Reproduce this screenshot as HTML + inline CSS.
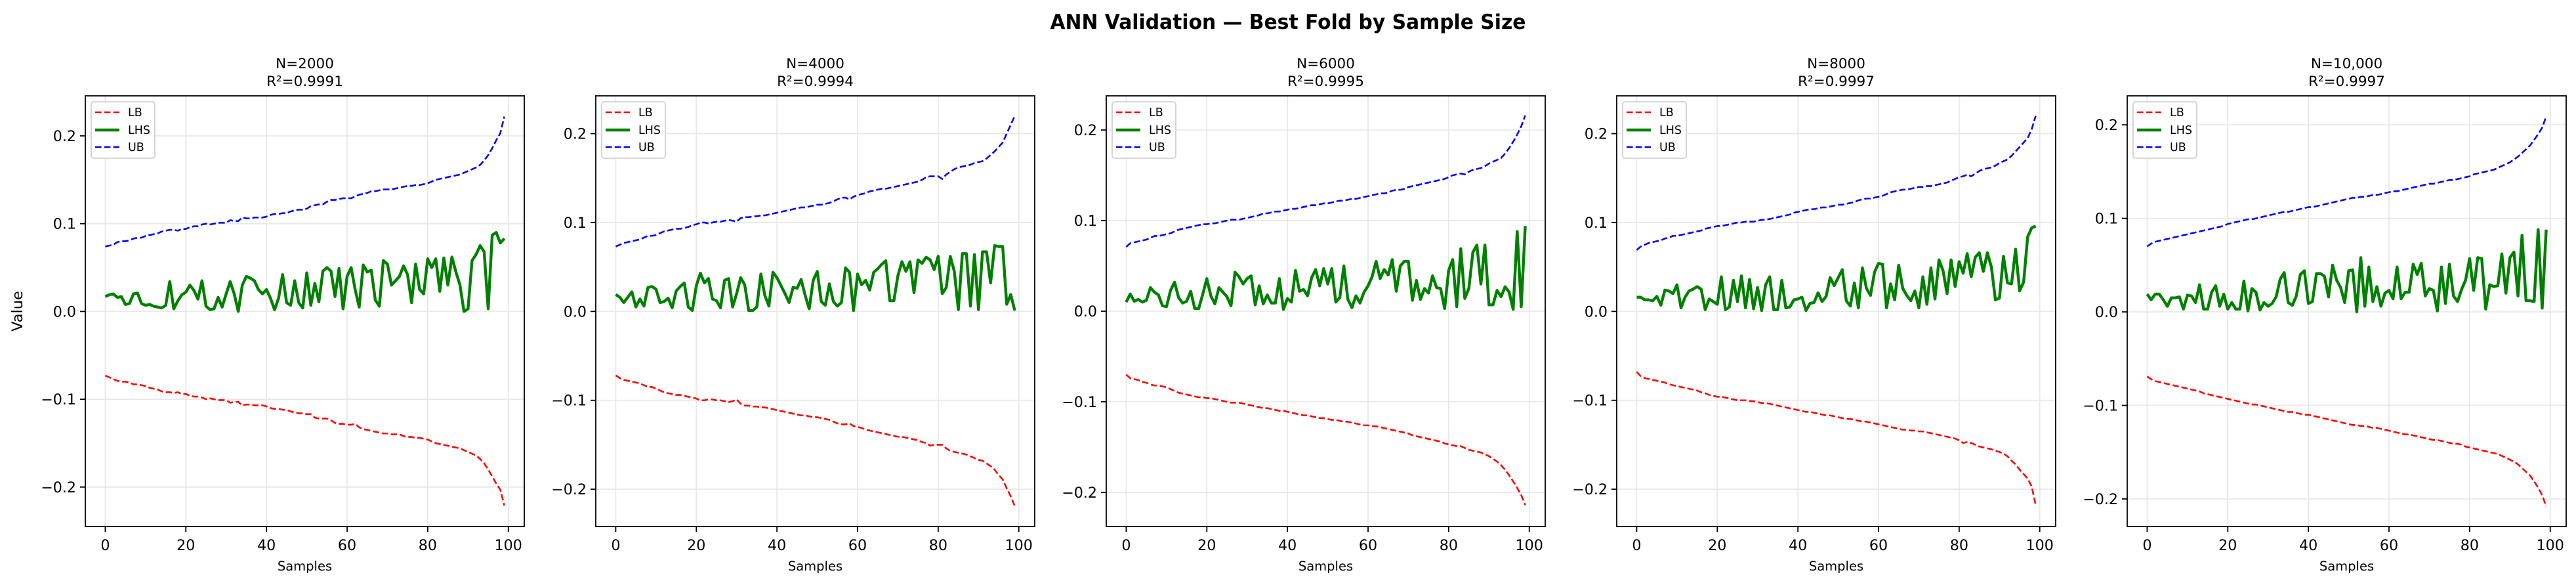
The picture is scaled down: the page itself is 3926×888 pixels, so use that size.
<!DOCTYPE html>
<html><head><meta charset="utf-8"><title>ANN Validation</title>
<style>
html,body{margin:0;padding:0;background:#fff;}
svg{display:block;font-family:"DejaVu Sans","Liberation Sans",sans-serif;}
</style></head>
<body>
<svg id="fig" width="3926" height="888" viewBox="0 0 3926 888" xmlns="http://www.w3.org/2000/svg">
<rect width="3926" height="888" fill="#fff"/>
<text x="1963" y="44" text-anchor="middle" font-size="31" font-weight="bold" textLength="725" lengthAdjust="spacingAndGlyphs">ANN Validation — Best Fold by Sample Size</text>
<text transform="translate(34,474) rotate(-90)" text-anchor="middle" font-size="22.5">Value</text>
</svg>
<script>
const panelTitles = ["N=2000","N=4000","N=6000","N=8000","N=10,000"];
const r2Labels = ["R²=0.9991","R²=0.9994","R²=0.9995","R²=0.9997","R²=0.9997"];
const xTicks = [0,20,40,60,80,100];
const yTicks = [-0.2,-0.1,0,0.1,0.2];
const yTickLabels = ["−0.2","−0.1","0.0","0.1","0.2"];
const yLimits = [[-0.245,0.2456],[-0.242,0.2425],[-0.2377,0.2377],[-0.242,0.2425],[-0.2295,0.231]];

const ub1 = [.074,.075,.076,.079,.080,.080,.081,.083,.084,.084,.086,.087,.088,.089,.091,.092,.093,.093,.092,.094,.094,.096,.097,.097,.099,.100,.099,.100,.101,.101,.101,.104,.103,.103,.107,.106,.106,.107,.107,.107,.108,.110,.111,.111,.112,.112,.114,.115,.116,.116,.117,.120,.121,.122,.122,.125,.127,.127,.128,.129,.129,.129,.131,.133,.134,.135,.137,.137,.138,.139,.139,.139,.140,.141,.142,.143,.143,.144,.144,.145,.146,.148,.150,.151,.152,.153,.154,.155,.156,.158,.160,.162,.164,.167,.172,.178,.186,.195,.203,.222];
const lb1 = [-.073,-.075,-.077,-.079,-.080,-.080,-.081,-.083,-.083,-.084,-.085,-.087,-.088,-.089,-.091,-.092,-.092,-.093,-.092,-.094,-.094,-.096,-.097,-.097,-.098,-.100,-.099,-.100,-.101,-.101,-.101,-.104,-.103,-.103,-.107,-.106,-.106,-.107,-.107,-.107,-.108,-.110,-.111,-.111,-.112,-.112,-.114,-.115,-.116,-.116,-.117,-.117,-.121,-.122,-.122,-.122,-.124,-.127,-.128,-.128,-.129,-.129,-.128,-.132,-.134,-.135,-.136,-.137,-.138,-.139,-.139,-.140,-.140,-.140,-.142,-.143,-.143,-.144,-.144,-.145,-.146,-.148,-.150,-.151,-.152,-.153,-.154,-.155,-.156,-.158,-.160,-.162,-.164,-.168,-.173,-.180,-.188,-.196,-.203,-.221];
const lhs1 = [.017,.019,.020,.016,.017,.008,.009,.020,.021,.009,.007,.008,.006,.005,.004,.007,.034,.003,.012,.019,.022,.030,.024,.014,.035,.006,.002,.003,.016,.005,.020,.034,.020,.000,.030,.040,.038,.035,.025,.020,.025,.015,.002,.015,.042,.010,.007,.035,.010,.004,.044,.007,.032,.011,.046,.050,.046,.017,.049,.003,.040,.050,.025,.005,.053,.045,.047,.013,.006,.058,.054,.030,.035,.040,.052,.042,.010,.054,.025,.020,.060,.050,.060,.023,.061,.030,.062,.045,.030,.000,.003,.058,.065,.075,.068,.003,.087,.090,.078,.083];

const ub2 = [.073,.075,.077,.078,.079,.080,.081,.083,.085,.085,.086,.088,.090,.091,.092,.093,.093,.094,.095,.097,.098,.100,.100,.099,.100,.101,.101,.102,.103,.102,.101,.105,.106,.106,.107,.107,.108,.108,.109,.110,.111,.112,.113,.114,.115,.116,.117,.117,.118,.119,.120,.120,.121,.122,.124,.126,.128,.128,.126,.129,.131,.132,.133,.135,.136,.137,.138,.138,.139,.140,.141,.142,.143,.144,.145,.146,.148,.151,.152,.152,.152,.149,.154,.157,.160,.162,.163,.164,.165,.167,.168,.169,.172,.176,.180,.185,.190,.200,.210,.220];
const lb2 = [-.072,-.075,-.077,-.078,-.079,-.080,-.081,-.083,-.085,-.085,-.087,-.089,-.091,-.092,-.093,-.094,-.094,-.095,-.096,-.097,-.098,-.100,-.100,-.099,-.099,-.100,-.100,-.101,-.102,-.101,-.099,-.104,-.106,-.106,-.107,-.107,-.108,-.108,-.109,-.110,-.111,-.112,-.113,-.114,-.115,-.116,-.117,-.117,-.118,-.119,-.119,-.120,-.121,-.122,-.124,-.126,-.127,-.127,-.126,-.129,-.130,-.131,-.133,-.134,-.135,-.136,-.137,-.138,-.139,-.140,-.141,-.141,-.142,-.143,-.144,-.145,-.147,-.148,-.151,-.150,-.150,-.150,-.154,-.157,-.158,-.159,-.160,-.161,-.163,-.165,-.167,-.168,-.171,-.174,-.178,-.184,-.189,-.199,-.208,-.219];
const lhs2 = [.019,.016,.010,.016,.022,.005,.014,.006,.027,.028,.025,.010,.011,.015,.004,.023,.028,.032,.005,.001,.029,.043,.032,.037,.014,.012,.004,.035,.037,.005,.020,.038,.030,.001,.001,.005,.042,.018,.006,.044,.038,.029,.020,.010,.027,.026,.036,.018,.003,.035,.045,.011,.007,.031,.011,.006,.010,.049,.044,.001,.042,.030,.035,.024,.044,.048,.053,.057,.012,.012,.040,.056,.045,.056,.021,.058,.054,.061,.058,.047,.062,.020,.027,.062,.045,.002,.065,.065,.006,.064,.002,.067,.067,.032,.074,.073,.073,.008,.019,.001];

const ub3 = [.071,.075,.076,.077,.078,.079,.081,.083,.083,.084,.085,.086,.088,.090,.091,.092,.093,.094,.095,.096,.096,.097,.097,.098,.099,.100,.101,.101,.101,.102,.103,.104,.105,.106,.108,.108,.109,.110,.110,.111,.112,.113,.113,.114,.115,.116,.117,.117,.118,.119,.119,.120,.121,.122,.122,.123,.124,.124,.125,.126,.127,.128,.129,.130,.130,.131,.133,.134,.134,.135,.137,.138,.139,.140,.141,.142,.143,.144,.145,.146,.148,.150,.151,.152,.151,.154,.156,.157,.158,.160,.163,.165,.167,.169,.174,.180,.187,.195,.204,.216];
const lb3 = [-.070,-.074,-.075,-.076,-.078,-.079,-.081,-.082,-.082,-.083,-.084,-.086,-.088,-.090,-.091,-.092,-.093,-.094,-.095,-.095,-.096,-.096,-.097,-.098,-.099,-.100,-.101,-.101,-.101,-.102,-.103,-.104,-.105,-.106,-.107,-.107,-.108,-.109,-.110,-.110,-.111,-.112,-.113,-.114,-.115,-.115,-.116,-.117,-.118,-.118,-.119,-.120,-.120,-.121,-.122,-.122,-.123,-.124,-.125,-.126,-.126,-.127,-.127,-.128,-.129,-.130,-.131,-.132,-.133,-.134,-.135,-.137,-.138,-.139,-.140,-.141,-.142,-.143,-.144,-.146,-.147,-.148,-.149,-.149,-.151,-.153,-.154,-.155,-.156,-.158,-.160,-.163,-.166,-.170,-.175,-.181,-.188,-.195,-.203,-.214];
const lhs3 = [.010,.019,.011,.013,.010,.012,.026,.021,.018,.006,.005,.023,.032,.015,.009,.011,.022,.003,.003,.019,.036,.017,.008,.026,.021,.016,.006,.043,.038,.030,.036,.039,.007,.028,.008,.018,.009,.009,.036,.002,.014,.010,.045,.022,.024,.017,.037,.046,.028,.047,.030,.047,.010,.015,.050,.013,.004,.017,.009,.021,.028,.038,.055,.036,.046,.040,.057,.022,.050,.055,.055,.012,.034,.013,.025,.020,.039,.026,.025,.003,.045,.057,.005,.069,.014,.025,.065,.073,.030,.073,.007,.007,.023,.016,.027,.021,.002,.088,.005,.094];

const ub4 = [.069,.073,.075,.077,.078,.079,.080,.082,.083,.085,.085,.086,.087,.088,.089,.090,.091,.093,.094,.095,.096,.096,.097,.098,.099,.100,.100,.101,.101,.101,.102,.103,.103,.104,.105,.106,.107,.108,.109,.111,.112,.113,.114,.115,.115,.116,.117,.117,.118,.119,.120,.120,.121,.122,.123,.125,.126,.127,.127,.128,.129,.130,.132,.134,.135,.136,.137,.137,.138,.139,.140,.140,.141,.141,.142,.143,.144,.145,.147,.149,.151,.152,.154,.152,.155,.158,.160,.161,.162,.164,.167,.169,.171,.175,.180,.185,.190,.195,.205,.220];
const lb4 = [-.068,-.073,-.075,-.076,-.077,-.078,-.079,-.080,-.082,-.083,-.084,-.085,-.086,-.087,-.088,-.089,-.091,-.092,-.094,-.095,-.096,-.096,-.097,-.098,-.099,-.100,-.100,-.100,-.101,-.101,-.102,-.103,-.103,-.104,-.105,-.106,-.107,-.108,-.109,-.110,-.111,-.112,-.113,-.113,-.114,-.115,-.116,-.117,-.117,-.118,-.119,-.120,-.121,-.121,-.122,-.123,-.124,-.124,-.125,-.126,-.127,-.128,-.129,-.130,-.131,-.132,-.133,-.133,-.134,-.134,-.135,-.135,-.136,-.137,-.138,-.139,-.140,-.141,-.142,-.143,-.145,-.148,-.147,-.148,-.150,-.152,-.153,-.154,-.155,-.157,-.158,-.160,-.163,-.168,-.172,-.178,-.183,-.188,-.197,-.218];
const lhs4 = [.016,.016,.013,.013,.012,.017,.007,.024,.023,.020,.030,.004,.016,.023,.025,.028,.025,.002,.014,.011,.008,.039,.002,.005,.035,.011,.040,.004,.036,.003,.027,.001,.030,.039,.002,.002,.035,.004,.005,.013,.014,.016,.001,.009,.010,.021,.011,.017,.038,.029,.038,.047,.012,.006,.032,.004,.049,.026,.018,.044,.054,.053,.004,.031,.013,.052,.026,.018,.012,.023,.004,.039,.008,.049,.014,.058,.046,.020,.058,.028,.056,.043,.065,.039,.061,.066,.045,.066,.050,.013,.015,.062,.032,.031,.070,.023,.033,.084,.094,.096];

const ub5 = [.070,.073,.075,.076,.077,.078,.079,.080,.081,.082,.083,.084,.085,.086,.087,.088,.089,.090,.091,.092,.094,.095,.096,.097,.098,.099,.099,.100,.101,.102,.103,.104,.105,.106,.107,.107,.108,.109,.110,.111,.112,.112,.113,.114,.115,.116,.117,.118,.119,.120,.121,.122,.122,.123,.123,.124,.125,.125,.126,.127,.128,.129,.129,.130,.131,.132,.133,.134,.135,.136,.137,.137,.138,.139,.140,.141,.141,.142,.143,.144,.145,.147,.148,.149,.150,.151,.152,.154,.156,.158,.160,.163,.166,.170,.174,.178,.184,.190,.197,.209];
const lb5 = [-.069,-.072,-.074,-.075,-.076,-.077,-.078,-.079,-.080,-.081,-.082,-.083,-.084,-.085,-.087,-.088,-.089,-.090,-.091,-.092,-.093,-.094,-.095,-.096,-.097,-.098,-.099,-.099,-.100,-.101,-.102,-.103,-.104,-.105,-.106,-.107,-.107,-.108,-.109,-.110,-.110,-.111,-.112,-.113,-.114,-.115,-.116,-.117,-.118,-.119,-.120,-.121,-.121,-.122,-.122,-.123,-.124,-.124,-.125,-.126,-.127,-.128,-.129,-.130,-.131,-.131,-.132,-.133,-.134,-.135,-.136,-.137,-.137,-.138,-.139,-.140,-.141,-.141,-.142,-.144,-.145,-.146,-.147,-.148,-.149,-.150,-.151,-.152,-.154,-.156,-.158,-.160,-.163,-.167,-.171,-.175,-.181,-.188,-.196,-.208];
const lhs5 = [.019,.013,.019,.019,.013,.006,.015,.015,.016,.003,.018,.017,.010,.029,.003,.003,.021,.028,.006,.019,.003,.010,.003,.003,.033,.001,.025,.021,.002,.010,.006,.009,.016,.035,.042,.010,.007,.017,.040,.044,.009,.011,.041,.041,.038,.016,.050,.034,.026,.010,.044,.045,.000,.058,.006,.048,.011,.027,.006,.020,.023,.014,.048,.014,.021,.021,.051,.040,.052,.017,.025,.023,.001,.048,.009,.051,.017,.011,.024,.034,.057,.023,.058,.057,.003,.029,.027,.028,.062,.020,.058,.064,.017,.082,.012,.012,.011,.088,.004,.088];

const ubSeries = [ub1,ub2,ub3,ub4,ub5];
const lbSeries = [lb1,lb2,lb3,lb4,lb5];
const lhsSeries = [lhs1,lhs2,lhs3,lhs4,lhs5];

const NS = "http://www.w3.org/2000/svg";
const svg = document.getElementById("fig");
const AX_LEFTS = [130, 908, 1686, 2464, 3242];
const AX_W = 669, AX_TOP = 146, AX_BOT = 802;
const XMIN = -4.95, XMAX = 103.95;

function mk(tag, attrs, parent) {
  const e = document.createElementNS(NS, tag);
  for (const k in attrs) e.setAttribute(k, attrs[k]);
  (parent || svg).appendChild(e);
  return e;
}

for (let p = 0; p < 5; p++) {
  const L = AX_LEFTS[p], R = L + AX_W;
  const [ymin, ymax] = yLimits[p];
  const xs = v => L + (v - XMIN) / (XMAX - XMIN) * AX_W;
  const ys = v => AX_BOT - (v - ymin) / (ymax - ymin) * (AX_BOT - AX_TOP);

  const g = mk("g", {});
  
  

  // grid
  xTicks.forEach(t => {
    const ln = mk("line", {x1: xs(t), x2: xs(t), y1: AX_TOP, y2: AX_BOT, stroke: "#e8e8e8", "stroke-width": 1.8}, g);
    
    
  });
  yTicks.forEach(t => {
    const ln = mk("line", {x1: L, x2: R, y1: ys(t), y2: ys(t), stroke: "#e8e8e8", "stroke-width": 1.8}, g);
    
    
  });

  const clipId = "clip" + p;
  const cp = mk("clipPath", {id: clipId}, g);
  mk("rect", {x: L, y: AX_TOP, width: AX_W, height: AX_BOT - AX_TOP}, cp);

  function series(arr, color, width, dash, name) {
    const d = arr.map((v, i) => (i ? "L" : "M") + xs(i).toFixed(2) + " " + ys(v).toFixed(2)).join(" ");
    const path = mk("path", {d: d, fill: "none", stroke: color, "stroke-width": width, "stroke-linejoin": "round", "clip-path": "url(#" + clipId + ")"}, g);
    if (dash) path.setAttribute("stroke-dasharray", dash);
    
    
  }
  series(lbSeries[p], "#ff0000", 2.6, "9.6,4.2", "lb-line");
  series(lhsSeries[p], "#008000", 4.4, null, "lhs-line");
  series(ubSeries[p], "#0000ff", 2.6, "9.6,4.2", "ub-line");

  // frame
  const fr = mk("rect", {x: L, y: AX_TOP, width: AX_W, height: AX_BOT - AX_TOP, fill: "none", stroke: "#000", "stroke-width": 1.8}, g);
  
  

  // ticks
  xTicks.forEach(t => {
    mk("line", {x1: xs(t), x2: xs(t), y1: AX_BOT, y2: AX_BOT + 8, stroke: "#000", "stroke-width": 1.8}, g);
    const tx = mk("text", {x: xs(t), y: 838, "text-anchor": "middle", "font-size": 22.2, fill: "#000"}, g);
    tx.textContent = String(t);
    
    
  });
  yTicks.forEach((t, i) => {
    mk("line", {x1: L - 8, x2: L, y1: ys(t), y2: ys(t), stroke: "#000", "stroke-width": 1.8}, g);
    const tx = mk("text", {x: L - 14, y: ys(t) + 8, "text-anchor": "end", "font-size": 22.2, fill: "#000"}, g);
    tx.textContent = yTickLabels[i];
    
    
  });

  const cx = L + AX_W / 2;
  const t1 = mk("text", {x: cx, y: 104, "text-anchor": "middle", "font-size": 21.5}, g);
  t1.textContent = panelTitles[p];
  
  
  const t2 = mk("text", {x: cx, y: 131, "text-anchor": "middle", "font-size": 21.5}, g);
  t2.textContent = r2Labels[p];
  
  
  const xl = mk("text", {x: cx, y: 869, "text-anchor": "middle", "font-size": 19.5}, g);
  xl.textContent = "Samples";
  
  

  // legend
  const lg = mk("g", {}, g);
  
  
  mk("rect", {x: L + 9, y: 155, width: 97, height: 86, rx: 4, fill: "#fff", "fill-opacity": 0.8, stroke: "#d0d0d0", "stroke-width": 1.8}, lg);
  const entries = [["LB", "#ff0000", 2.6, "9.6,4.2", 171], ["LHS", "#008000", 4.4, null, 198], ["UB", "#0000ff", 2.6, "9.6,4.2", 224]];
  entries.forEach(en => {
    const eg = mk("g", {}, lg);
    
    
    const ln = mk("line", {x1: L + 15, x2: L + 52, y1: en[4], y2: en[4], stroke: en[1], "stroke-width": en[2]}, eg);
    if (en[3]) ln.setAttribute("stroke-dasharray", en[3]);
    const tx = mk("text", {x: L + 65, y: en[4] + 6, "font-size": 17.5}, eg);
    tx.textContent = en[0];
  });
}
</script>
</body></html>
